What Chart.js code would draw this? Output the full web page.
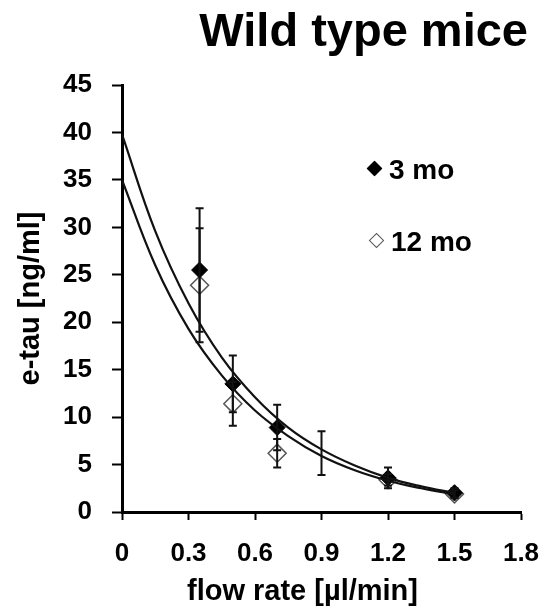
<!DOCTYPE html>
<html>
<head>
<meta charset="utf-8">
<script src="https://cdn.jsdelivr.net/npm/chart.js@4.4.1/dist/chart.umd.min.js"></script>
<style>
  html, body { margin: 0; padding: 0; background: #fff; }
  #wrap { position: relative; width: 550px; height: 609px; font-family: "Liberation Sans", Arial, sans-serif; font-weight: bold; color: #000; }
  #title { position: absolute; right: 22px; top: 4px; font-size: 47px; line-height: 52px; }
  #xtitle { position: absolute; left: 0; width: 605px; text-align: center; top: 573px; font-size: 29px; line-height: 34px; }
  .leg { position: absolute; font-size: 28px; line-height: 32px; white-space: nowrap; }
  .sq { display: inline-block; width: 9px; height: 9px; transform: rotate(45deg); margin-right: 9px; vertical-align: 5px; border: 1.5px solid #000; }
</style>
</head>
<body>
<div id="wrap">
  <canvas id="c" width="550" height="609"></canvas>
  <div id="title">Wild type mice</div>
  <div id="xtitle">flow rate [µl/min]</div>
  <div class="leg" style="left:369px; top:154px"><span class="sq" style="background:#000"></span>3 mo</div>
  <div class="leg" style="left:371px; top:226px"><span class="sq" style="background:#fff;border-color:#555"></span>12 mo</div>
</div>
<script>
const flow3  = [0.35, 0.5, 0.7, 0.9, 1.2, 1.5];
const tau3   = [25.5, 13.5, 8.9, 6.2, 3.6, 2.0];
const err3   = [6.5, 3.0, 2.4, 2.3, 1.1, 0.5];
const flow12 = [0.35, 0.5, 0.7, 1.2, 1.5];
const tau12  = [23.9, 11.4, 6.2, 3.4, 1.9];
const err12  = [6.0, 2.3, 1.5, 0.6, 0.4];

// fitted curves
const fitX   = [0, 0.15, 0.3, 0.45, 0.6, 0.75, 0.9, 1.05, 1.2, 1.35, 1.5];
const fit3   = [39.8, 29.6, 22.0, 16.3, 12.1, 8.9, 6.6, 4.9, 3.6, 2.7, 2.0];
const fit12  = [35.0, 26.0, 19.3, 14.4, 10.7, 8.0, 5.9, 4.4, 3.3, 2.5, 1.85];

const xTicks = [0, 0.3, 0.6, 0.9, 1.2, 1.5, 1.8];
const yTicks = [0, 5, 10, 15, 20, 25, 30, 35, 40, 45];

const pts = (xs, ys) => xs.map((x, i) => ({ x, y: ys[i] }));

const errorBars = {
  id: 'errorBars',
  afterDatasetsDraw(chart) {
    const { ctx, scales: { x, y } } = chart;
    ctx.save();
    ctx.strokeStyle = '#111';
    ctx.lineWidth = 2;
    chart.data.datasets.forEach(ds => {
      if (!ds.err) return;
      ds.data.forEach((p, i) => {
        const px = x.getPixelForValue(p.x);
        const top = y.getPixelForValue(p.y + ds.err[i]);
        const bot = y.getPixelForValue(p.y - ds.err[i]);
        ctx.beginPath();
        ctx.moveTo(px, top); ctx.lineTo(px, bot);
        ctx.moveTo(px - 4, top); ctx.lineTo(px + 4, top);
        ctx.moveTo(px - 4, bot); ctx.lineTo(px + 4, bot);
        ctx.stroke();
      });
    });
    ctx.restore();
  }
};

const tickFont = { family: '"Liberation Sans", Arial, sans-serif', size: 26, weight: 'bold' };

new Chart(document.getElementById('c'), {
  type: 'scatter',
  data: {
    datasets: [
      { label: 'fit 3 mo', type: 'line', data: pts(fitX, fit3), borderColor: '#111', borderWidth: 2.2,
        pointRadius: 0, tension: 0.4, fill: false },
      { label: 'fit 12 mo', type: 'line', data: pts(fitX, fit12), borderColor: '#111', borderWidth: 2.2,
        pointRadius: 0, tension: 0.4, fill: false },
      { label: '3 mo', data: pts(flow3, tau3), err: err3, pointStyle: 'rectRot',
        pointRadius: [8, 8, 8, 0, 8, 8], backgroundColor: '#000', borderColor: '#000', borderWidth: 1 },
      { label: '12 mo', data: pts(flow12, tau12), err: err12, pointStyle: 'rectRot',
        pointRadius: 9, backgroundColor: '#fff', borderColor: '#555', borderWidth: 1.5 },
    ],
  },
  options: {
    responsive: false, animation: false,
    layout: { padding: { top: 85, right: 29, bottom: 0, left: 0 } },
    plugins: { legend: { display: false }, tooltip: { enabled: false } },
    scales: {
      x: {
        type: 'linear', min: 0, max: 1.8,
        afterBuildTicks: s => { s.ticks = xTicks.map(v => ({ value: v })); },
        afterFit: s => { s.height = 97; s.paddingRight = 0; s.paddingLeft = 0; },
        border: { display: true, color: '#000', width: 3 },
        grid: { drawOnChartArea: false, drawTicks: true, tickLength: 8, tickColor: '#000', tickWidth: 2 },
        ticks: { color: '#000', font: tickFont, padding: 18, maxRotation: 0,
          callback: v => v === 0 ? '0' : v.toFixed(1) },
      },
      y: {
        min: 0, max: 45,
        afterBuildTicks: s => { s.ticks = yTicks.map(v => ({ value: v })); },
        afterFit: s => { s.width = 122; },
        border: { display: true, color: '#000', width: 3 },
        grid: { drawOnChartArea: false, drawTicks: true, tickLength: 10, tickColor: '#000', tickWidth: 2 },
        ticks: { color: '#000', font: tickFont, padding: 20 },
        title: { display: true, text: 'e-tau [ng/ml]', color: '#000',
          font: { family: '"Liberation Sans", Arial, sans-serif', size: 29, weight: 'bold' },
          padding: { top: 14, bottom: 0 } },
      },
    },
  },
  plugins: [errorBars],
});
</script>
</body>
</html>
